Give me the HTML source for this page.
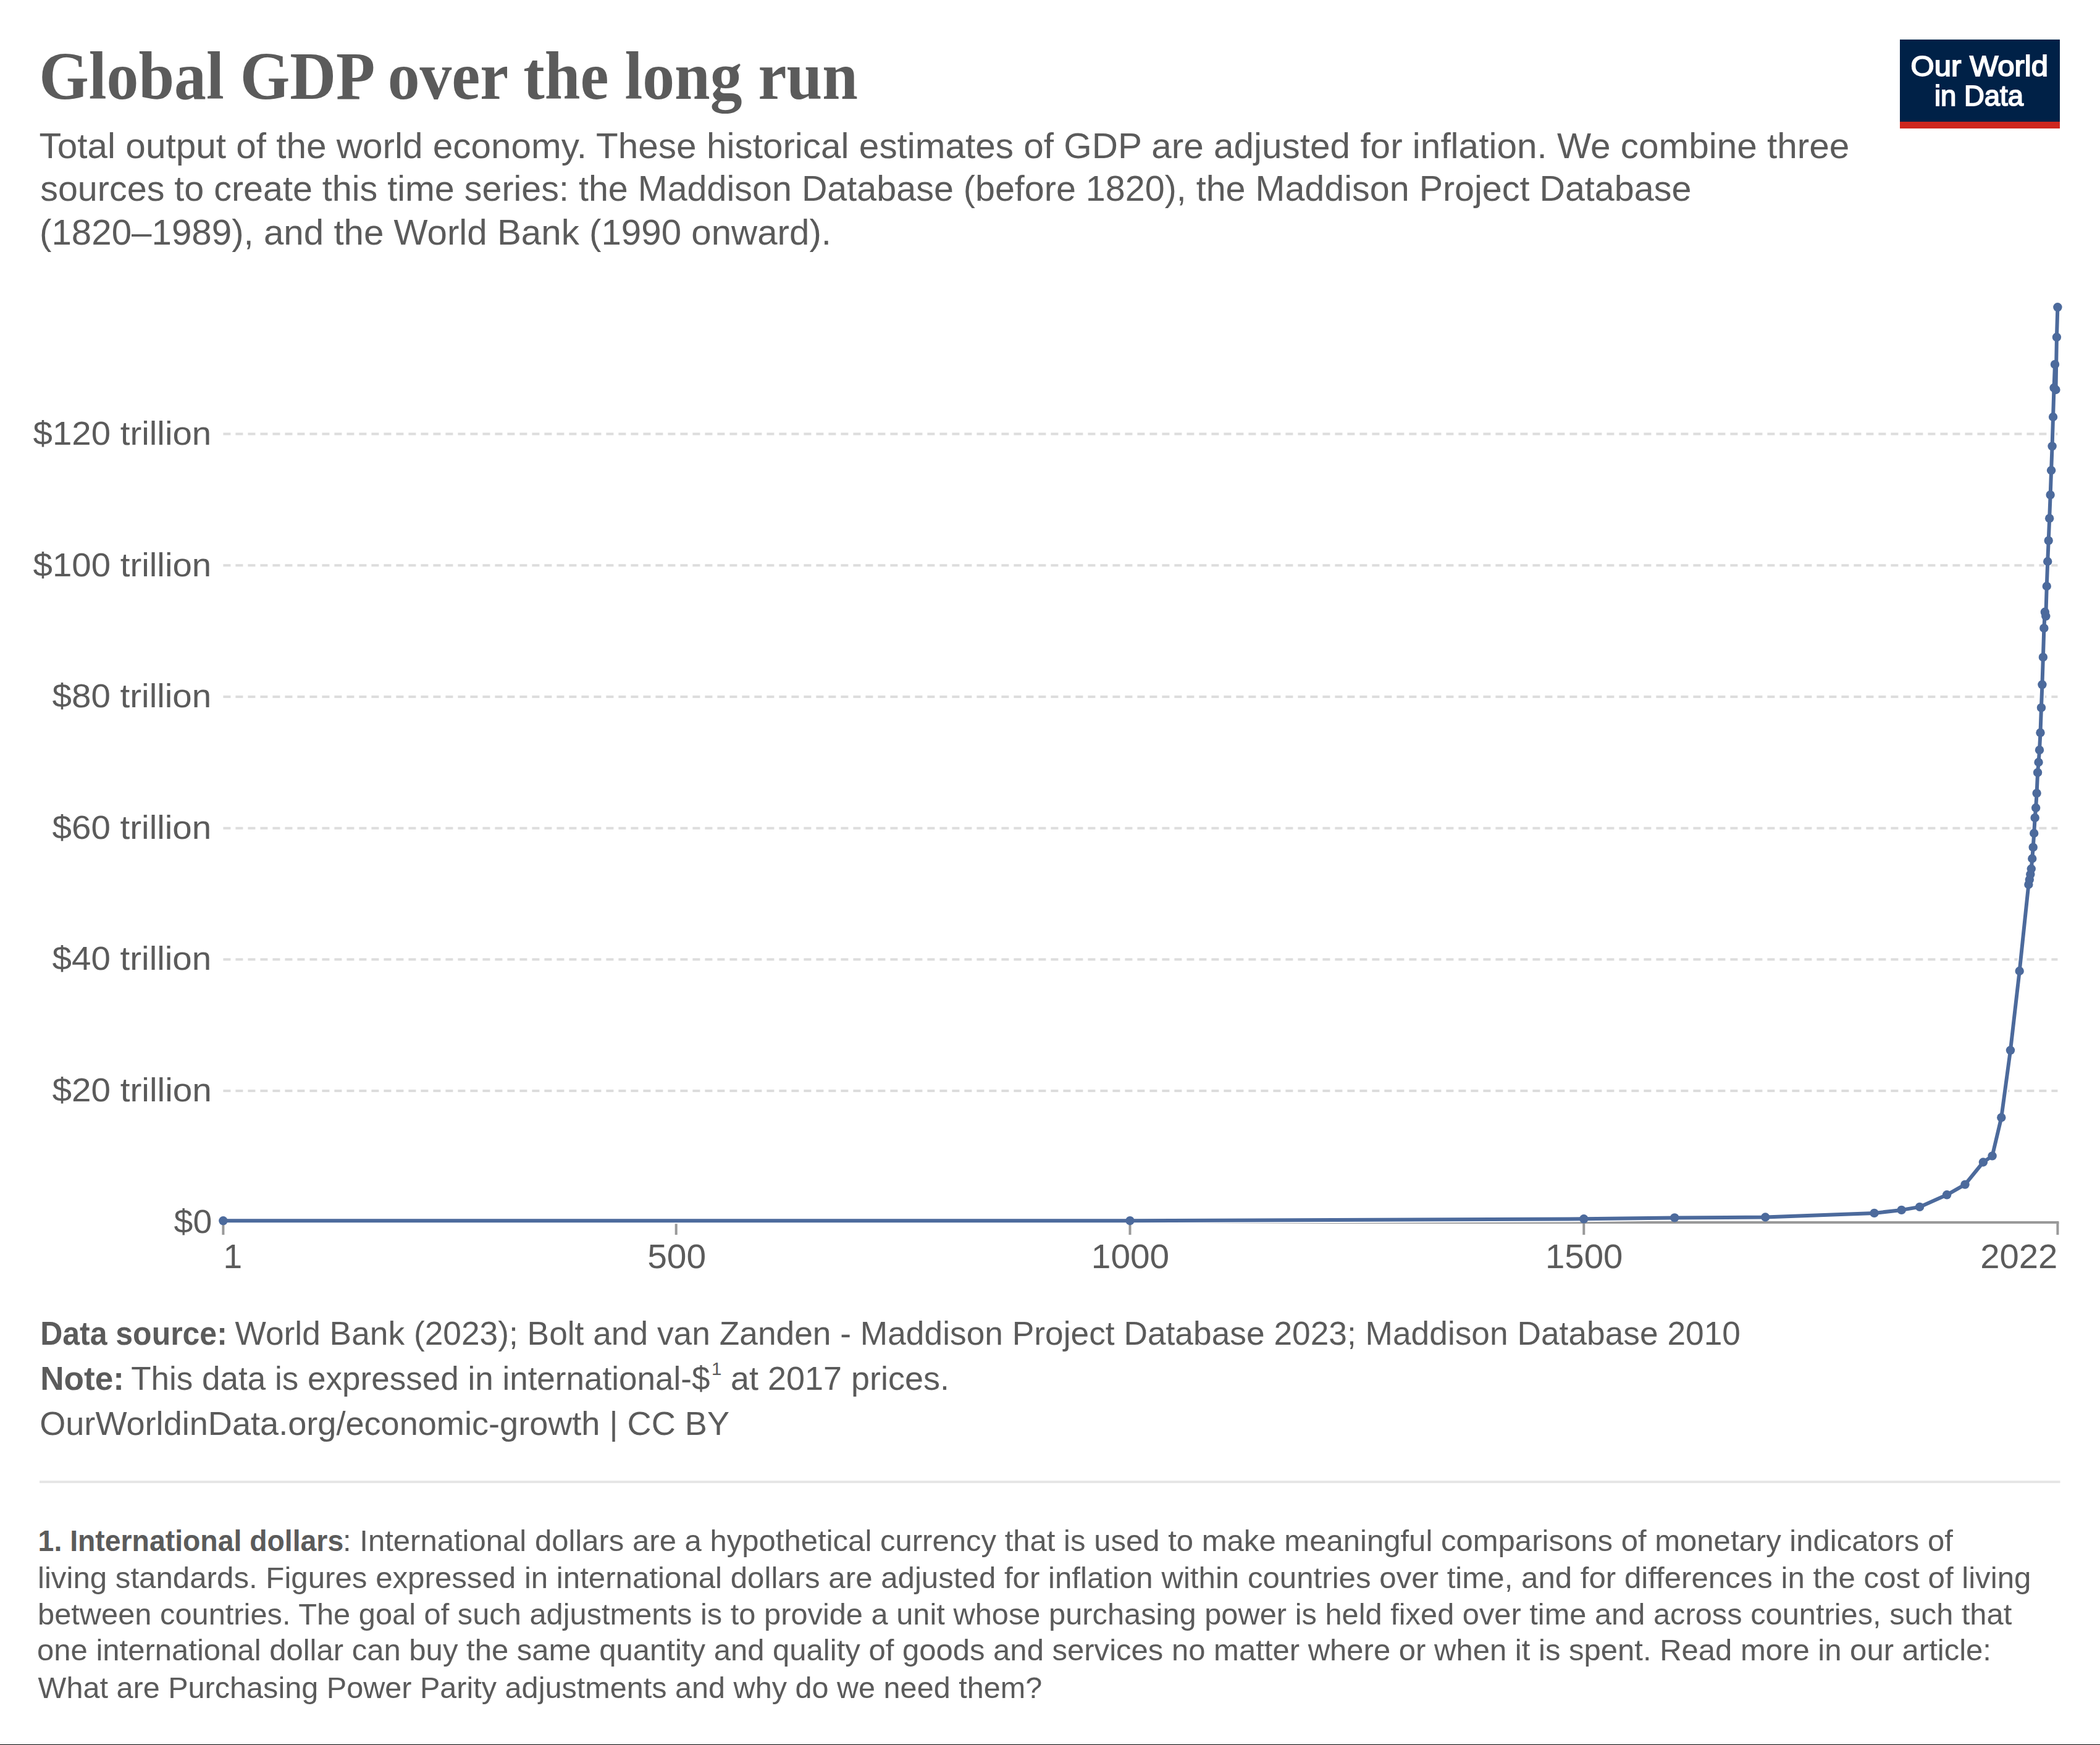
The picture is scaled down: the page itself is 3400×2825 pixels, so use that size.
<!DOCTYPE html>
<html><head><meta charset="utf-8"><title>Global GDP over the long run</title><style>
html,body{margin:0;padding:0;background:#fff;}
body{width:3400px;height:2825px;overflow:hidden;position:relative;}
svg{position:absolute;left:0;top:0;display:block;}
</style></head><body>
<svg width="3400" height="2825" viewBox="0 0 3400 2825">
<rect x="0" y="0" width="3400" height="2825" fill="#fff"/>
<text id="title" x="63.20" y="159.6" font-family='"Liberation Serif",serif' font-size="110" font-weight="bold" fill="#5b5b5b" textLength="1325.60" lengthAdjust="spacingAndGlyphs">Global GDP over the long run</text><text id="sub1" x="63.60" y="256.1" font-family='"Liberation Sans",sans-serif' font-size="58" fill="#5b5b5b" textLength="2930.80" lengthAdjust="spacingAndGlyphs">Total output of the world economy. These historical estimates of GDP are adjusted for inflation. We combine three</text><text id="sub2" x="65.20" y="325.0" font-family='"Liberation Sans",sans-serif' font-size="58" fill="#5b5b5b" textLength="2673.20" lengthAdjust="spacingAndGlyphs">sources to create this time series: the Maddison Database (before 1820), the Maddison Project Database</text><text id="sub3" x="64.00" y="395.8" font-family='"Liberation Sans",sans-serif' font-size="58" fill="#5b5b5b" textLength="1282.00" lengthAdjust="spacingAndGlyphs">(1820–1989), and the World Bank (1990 onward).</text>
<rect x="3076" y="64" width="259" height="133" fill="#002147"/>
<rect x="3076" y="197" width="259" height="11" fill="#ce261e"/>
<defs><filter id="gs" x="0" y="0" width="1" height="1"><feOffset dx="0" dy="0"/></filter></defs><g filter="url(#gs)"><text id="logo1" x="3093.60" y="123.2" font-family='"Liberation Sans",sans-serif' font-size="46" stroke="#fff" stroke-width="1.8" fill="#fff" textLength="222.40" lengthAdjust="spacingAndGlyphs">Our World</text><text id="logo2" x="3132.00" y="171.0" font-family='"Liberation Sans",sans-serif' font-size="46" stroke="#fff" stroke-width="1.8" fill="#fff" textLength="144.00" lengthAdjust="spacingAndGlyphs">in Data</text></g>
<g stroke="#dddddd" stroke-width="4" stroke-dasharray="12,8"><line x1="361.4" y1="1766.0" x2="3331.4" y2="1766.0"/><line x1="361.4" y1="1553.3" x2="3331.4" y2="1553.3"/><line x1="361.4" y1="1340.7" x2="3331.4" y2="1340.7"/><line x1="361.4" y1="1128.0" x2="3331.4" y2="1128.0"/><line x1="361.4" y1="915.3" x2="3331.4" y2="915.3"/><line x1="361.4" y1="702.6" x2="3331.4" y2="702.6"/></g>
<line x1="361.4" y1="1979" x2="3333.4" y2="1979" stroke="#999" stroke-width="4"/>
<g stroke="#999" stroke-width="4"><line x1="361.4" y1="1979" x2="361.4" y2="1999"/><line x1="1094.7" y1="1979" x2="1094.7" y2="1999"/><line x1="1829.5" y1="1979" x2="1829.5" y2="1999"/><line x1="2564.3" y1="1979" x2="2564.3" y2="1999"/><line x1="3331.4" y1="1979" x2="3331.4" y2="1999"/></g>
<text id="y0" x="281.60" y="1995.7" font-family='"Liberation Sans",sans-serif' font-size="54.5" fill="#5b5b5b" textLength="61.60" lengthAdjust="spacingAndGlyphs">$0</text><text id="y20" x="84.40" y="1783" font-family='"Liberation Sans",sans-serif' font-size="54.5" fill="#5b5b5b" textLength="258.40" lengthAdjust="spacingAndGlyphs">$20 trillion</text><text id="y40" x="84.60" y="1570.2" font-family='"Liberation Sans",sans-serif' font-size="54.5" fill="#5b5b5b" textLength="257.60" lengthAdjust="spacingAndGlyphs">$40 trillion</text><text id="y60" x="84.60" y="1357.9" font-family='"Liberation Sans",sans-serif' font-size="54.5" fill="#5b5b5b" textLength="257.60" lengthAdjust="spacingAndGlyphs">$60 trillion</text><text id="y80" x="84.60" y="1145.4" font-family='"Liberation Sans",sans-serif' font-size="54.5" fill="#5b5b5b" textLength="257.60" lengthAdjust="spacingAndGlyphs">$80 trillion</text><text id="y100" x="53.60" y="932.6" font-family='"Liberation Sans",sans-serif' font-size="54.5" fill="#5b5b5b" textLength="288.60" lengthAdjust="spacingAndGlyphs">$100 trillion</text><text id="y120" x="53.60" y="719.6" font-family='"Liberation Sans",sans-serif' font-size="54.5" fill="#5b5b5b" textLength="288.60" lengthAdjust="spacingAndGlyphs">$120 trillion</text><text id="x1" x="361.40" y="2052.7" font-family='"Liberation Sans",sans-serif' font-size="56.4" fill="#5b5b5b" textLength="30.60" lengthAdjust="spacingAndGlyphs">1</text><text id="x500" x="1048.20" y="2052.7" font-family='"Liberation Sans",sans-serif' font-size="56.4" fill="#5b5b5b" textLength="95.00" lengthAdjust="spacingAndGlyphs">500</text><text id="x1000" x="1766.80" y="2052.7" font-family='"Liberation Sans",sans-serif' font-size="56.4" fill="#5b5b5b" textLength="126.40" lengthAdjust="spacingAndGlyphs">1000</text><text id="x1500" x="2502.00" y="2052.7" font-family='"Liberation Sans",sans-serif' font-size="56.4" fill="#5b5b5b" textLength="125.40" lengthAdjust="spacingAndGlyphs">1500</text><text id="x2022" x="3206.20" y="2052.7" font-family='"Liberation Sans",sans-serif' font-size="56.4" fill="#5b5b5b" textLength="125.00" lengthAdjust="spacingAndGlyphs">2022</text>
<path d="M361.4,1976.3 L1829.5,1976.2 L2564.28,1973.3 L2711.24,1971.4 L2858.2,1970.5 L3034.55,1963.9 L3078.63,1958.9 L3108.03,1953.9 L3152.11,1934.3 L3181.5,1917.6 L3210.9,1881.5 L3225.59,1871.4 L3240.29,1809.2 L3254.98,1700.3 L3269.68,1572.0 L3284.37,1432 L3285.84,1424.1 L3287.31,1415.6 L3288.78,1406.5 L3290.25,1390 L3291.72,1371.7 L3293.19,1349 L3294.66,1323.9 L3296.13,1307.8 L3297.6,1284.1 L3299.07,1250.7 L3300.54,1234 L3302.01,1214.2 L3303.48,1186.2 L3304.95,1145.7 L3306.42,1108.3 L3307.89,1063.9 L3309.36,1016.9 L3310.83,990.8 L3312.3,997.6 L3313.77,949 L3315.23,909 L3316.7,875.1 L3318.17,839.2 L3319.64,801.1 L3321.11,761.5 L3322.58,722.4 L3324.05,675 L3325.52,627.8 L3326.99,589.9 L3328.46,631 L3329.93,545.8 L3331.4,497.3" fill="none" stroke="#fff" stroke-width="10" stroke-linejoin="round" stroke-linecap="round"/>
<path d="M361.4,1976.3 L1829.5,1976.2 L2564.28,1973.3 L2711.24,1971.4 L2858.2,1970.5 L3034.55,1963.9 L3078.63,1958.9 L3108.03,1953.9 L3152.11,1934.3 L3181.5,1917.6 L3210.9,1881.5 L3225.59,1871.4 L3240.29,1809.2 L3254.98,1700.3 L3269.68,1572.0 L3284.37,1432 L3285.84,1424.1 L3287.31,1415.6 L3288.78,1406.5 L3290.25,1390 L3291.72,1371.7 L3293.19,1349 L3294.66,1323.9 L3296.13,1307.8 L3297.6,1284.1 L3299.07,1250.7 L3300.54,1234 L3302.01,1214.2 L3303.48,1186.2 L3304.95,1145.7 L3306.42,1108.3 L3307.89,1063.9 L3309.36,1016.9 L3310.83,990.8 L3312.3,997.6 L3313.77,949 L3315.23,909 L3316.7,875.1 L3318.17,839.2 L3319.64,801.1 L3321.11,761.5 L3322.58,722.4 L3324.05,675 L3325.52,627.8 L3326.99,589.9 L3328.46,631 L3329.93,545.8 L3331.4,497.3" fill="none" stroke="#4c6a9c" stroke-width="6" stroke-linejoin="round" stroke-linecap="round"/>
<g fill="#4c6a9c"><circle cx="361.4" cy="1976.3" r="7.2"/><circle cx="1829.5" cy="1976.2" r="7.2"/><circle cx="2564.28" cy="1973.3" r="7.2"/><circle cx="2711.24" cy="1971.4" r="7.2"/><circle cx="2858.2" cy="1970.5" r="7.2"/><circle cx="3034.55" cy="1963.9" r="7.2"/><circle cx="3078.63" cy="1958.9" r="7.2"/><circle cx="3108.03" cy="1953.9" r="7.2"/><circle cx="3152.11" cy="1934.3" r="7.2"/><circle cx="3181.5" cy="1917.6" r="7.2"/><circle cx="3210.9" cy="1881.5" r="7.2"/><circle cx="3225.59" cy="1871.4" r="7.2"/><circle cx="3240.29" cy="1809.2" r="7.2"/><circle cx="3254.98" cy="1700.3" r="7.2"/><circle cx="3269.68" cy="1572.0" r="7.2"/><circle cx="3284.37" cy="1432" r="7.2"/><circle cx="3285.84" cy="1424.1" r="7.2"/><circle cx="3287.31" cy="1415.6" r="7.2"/><circle cx="3288.78" cy="1406.5" r="7.2"/><circle cx="3290.25" cy="1390" r="7.2"/><circle cx="3291.72" cy="1371.7" r="7.2"/><circle cx="3293.19" cy="1349" r="7.2"/><circle cx="3294.66" cy="1323.9" r="7.2"/><circle cx="3296.13" cy="1307.8" r="7.2"/><circle cx="3297.6" cy="1284.1" r="7.2"/><circle cx="3299.07" cy="1250.7" r="7.2"/><circle cx="3300.54" cy="1234" r="7.2"/><circle cx="3302.01" cy="1214.2" r="7.2"/><circle cx="3303.48" cy="1186.2" r="7.2"/><circle cx="3304.95" cy="1145.7" r="7.2"/><circle cx="3306.42" cy="1108.3" r="7.2"/><circle cx="3307.89" cy="1063.9" r="7.2"/><circle cx="3309.36" cy="1016.9" r="7.2"/><circle cx="3310.83" cy="990.8" r="7.2"/><circle cx="3312.3" cy="997.6" r="7.2"/><circle cx="3313.77" cy="949" r="7.2"/><circle cx="3315.23" cy="909" r="7.2"/><circle cx="3316.7" cy="875.1" r="7.2"/><circle cx="3318.17" cy="839.2" r="7.2"/><circle cx="3319.64" cy="801.1" r="7.2"/><circle cx="3321.11" cy="761.5" r="7.2"/><circle cx="3322.58" cy="722.4" r="7.2"/><circle cx="3324.05" cy="675" r="7.2"/><circle cx="3325.52" cy="627.8" r="7.2"/><circle cx="3326.99" cy="589.9" r="7.2"/><circle cx="3328.46" cy="631" r="7.2"/><circle cx="3329.93" cy="545.8" r="7.2"/><circle cx="3331.4" cy="497.3" r="7.2"/></g>
<text id="f1b" x="65.20" y="2177.1" font-family='"Liberation Sans",sans-serif' font-size="54.5" font-weight="bold" fill="#5b5b5b" textLength="302.60" lengthAdjust="spacingAndGlyphs">Data source:</text><text id="f1r" x="380.60" y="2177.1" font-family='"Liberation Sans",sans-serif' font-size="54.5" fill="#5b5b5b" textLength="2437.40" lengthAdjust="spacingAndGlyphs">World Bank (2023); Bolt and van Zanden - Maddison Project Database 2023; Maddison Database 2010</text><text id="f2b" x="65.20" y="2250" font-family='"Liberation Sans",sans-serif' font-size="54.5" font-weight="bold" fill="#5b5b5b" textLength="135.80" lengthAdjust="spacingAndGlyphs">Note:</text><text id="f2r" x="212.20" y="2250" font-family='"Liberation Sans",sans-serif' font-size="54.5" fill="#5b5b5b" textLength="937.20" lengthAdjust="spacingAndGlyphs">This data is expressed in international-$</text><text id="f2s" x="1152.00" y="2226" font-family='"Liberation Sans",sans-serif' font-size="29" fill="#5b5b5b" textLength="16.40" lengthAdjust="spacingAndGlyphs">1</text><text id="f2r2" x="1183.00" y="2250" font-family='"Liberation Sans",sans-serif' font-size="54.5" fill="#5b5b5b" textLength="354.00" lengthAdjust="spacingAndGlyphs">at 2017 prices.</text><text id="f3" x="64.20" y="2322.9" font-family='"Liberation Sans",sans-serif' font-size="54.5" fill="#5b5b5b" textLength="1116.80" lengthAdjust="spacingAndGlyphs">OurWorldinData.org/economic-growth | CC BY</text><text id="n1b" x="61.60" y="2511" font-family='"Liberation Sans",sans-serif' font-size="49" font-weight="bold" fill="#5b5b5b" textLength="494.60" lengthAdjust="spacingAndGlyphs">1. International dollars</text><text id="n1r" x="555.00" y="2511" font-family='"Liberation Sans",sans-serif' font-size="49" fill="#5b5b5b" textLength="2606.80" lengthAdjust="spacingAndGlyphs">: International dollars are a hypothetical currency that is used to make meaningful comparisons of monetary indicators of</text><text id="n2" x="61.00" y="2570.5" font-family='"Liberation Sans",sans-serif' font-size="49" fill="#5b5b5b" textLength="3227.40" lengthAdjust="spacingAndGlyphs">living standards. Figures expressed in international dollars are adjusted for inflation within countries over time, and for differences in the cost of living</text><text id="n3" x="61.00" y="2629.6" font-family='"Liberation Sans",sans-serif' font-size="49" fill="#5b5b5b" textLength="3196.20" lengthAdjust="spacingAndGlyphs">between countries. The goal of such adjustments is to provide a unit whose purchasing power is held fixed over time and across countries, such that</text><text id="n4" x="60.00" y="2688.1" font-family='"Liberation Sans",sans-serif' font-size="49" fill="#5b5b5b" textLength="3164.00" lengthAdjust="spacingAndGlyphs">one international dollar can buy the same quantity and quality of goods and services no matter where or when it is spent. Read more in our article:</text><text id="n5" x="61.60" y="2748.6" font-family='"Liberation Sans",sans-serif' font-size="49" fill="#5b5b5b" textLength="1625.60" lengthAdjust="spacingAndGlyphs">What are Purchasing Power Parity adjustments and why do we need them?</text>
<rect x="64" y="2397" width="3271.5" height="4" fill="#e6e6e6"/>
<rect x="0" y="2824" width="3400" height="1" fill="#000"/>
</svg>
</body></html>
